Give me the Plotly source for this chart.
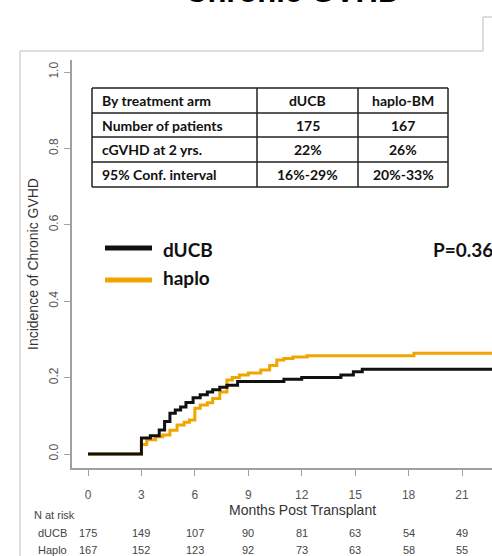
import plotly.graph_objects as go

# ---------------- data ----------------
ducb_t = [0, 3.0, 3.5, 4.0, 4.3, 4.6, 4.9, 5.2, 5.5, 5.9, 6.3, 6.7, 7.0, 7.4, 7.8, 8.4, 11.0, 12.0, 14.2, 14.9, 15.4, 22.7]
ducb_v = [0, 0.042, 0.048, 0.063, 0.085, 0.107, 0.115, 0.123, 0.135, 0.147, 0.155, 0.162, 0.168, 0.175, 0.18, 0.19, 0.196, 0.2, 0.207, 0.215, 0.222, 0.222]

haplo_t = [0, 3.0, 3.3, 3.8, 4.2, 4.6, 5.0, 5.4, 5.7, 6.0, 6.3, 6.7, 7.0, 7.4, 7.8, 8.1, 8.5, 9.0, 9.7, 10.2, 10.6, 11.0, 11.5, 12.3, 18.3, 22.7]
haplo_v = [0, 0.025, 0.037, 0.045, 0.05, 0.062, 0.076, 0.083, 0.089, 0.12, 0.128, 0.134, 0.145, 0.162, 0.194, 0.2, 0.207, 0.212, 0.22, 0.232, 0.246, 0.25, 0.254, 0.257, 0.264, 0.264]

x_ticks = [0, 3, 6, 9, 12, 15, 18, 21]
y_ticks = [0.0, 0.2, 0.4, 0.6, 0.8, 1.0]
risk_ducb = [175, 149, 107, 90, 81, 63, 54, 49]
risk_haplo = [167, 152, 123, 92, 73, 63, 58, 55]

table_rows = [
    ["By treatment arm", "dUCB", "haplo-BM"],
    ["Number of patients", "175", "167"],
    ["cGVHD at 2 yrs.", "22%", "26%"],
    ["95% Conf. interval", "16%-29%", "20%-33%"],
]

BLACK = "#111111"
GOLD = "#F0A500"

# ---------------- layout geometry (pixels) ----------------
FW, FH = 492, 556
L, R, T, B = 72, 492, 60, 468
PW, PH = R - L, B - T


def px(xp):
    return (xp - L) / PW


def py(yp):
    return (B - yp) / PH


fig = go.Figure()
fig.add_trace(go.Scatter(x=haplo_t, y=haplo_v, mode="lines", line=dict(color=GOLD, width=3, shape="hv"),
                         name="haplo", showlegend=False))
fig.add_trace(go.Scatter(x=ducb_t, y=ducb_v, mode="lines", line=dict(color=BLACK, width=3, shape="hv"),
                         name="dUCB", showlegend=False))

axis_font = dict(family="Liberation Sans, Arial", size=12, color="#555555")

fig.update_layout(
    width=FW, height=FH,
    margin=dict(l=L, r=FW - R, t=T, b=FH - B, pad=0),
    paper_bgcolor="white", plot_bgcolor="white",
    xaxis=dict(range=[(L - 88) / 17.81, (R - 88) / 17.81], tickvals=x_ticks, ticktext=[str(v) for v in x_ticks],
               showgrid=False, zeroline=False, showline=True, linecolor="#a0a0a0", linewidth=1.5,
               ticks="outside", ticklen=6, tickcolor="#a0a0a0", tickfont=axis_font, ticklabelstandoff=9),
    yaxis=dict(range=[(454 - B) / 382, (454 - T) / 382], tickvals=y_ticks, tickformat=".1f",
               showgrid=False, zeroline=False, showline=True, linecolor="#a0a0a0", linewidth=1.5,
               ticks="outside", ticklen=6, tickcolor="#a0a0a0", tickfont=axis_font, tickangle=-90,
               ticklabelstandoff=1),
    showlegend=False,
)

shapes = []
annotations = []

# slide frame
frame = dict(type="line", xref="paper", yref="paper", line=dict(color="#bdbdbd", width=1))
shapes.append(dict(frame, x0=px(20), x1=px(483), y0=py(51), y1=py(51)))
shapes.append(dict(frame, x0=px(483), x1=px(483), y0=py(51), y1=py(17)))
shapes.append(dict(frame, x0=px(483), x1=px(495), y0=py(17), y1=py(17)))
shapes.append(dict(frame, x0=px(20), x1=px(20), y0=py(51), y1=py(560)))

# title (mostly cut off, as in the reference)
annotations.append(dict(text="<b>Chronic GVHD</b>", xref="paper", yref="paper", x=px(292), y=py(11),
                        xanchor="center", yanchor="bottom", showarrow=False,
                        font=dict(family="Liberation Sans, Arial", size=31, color="black")))

# axis titles
annotations.append(dict(text="Incidence of Chronic GVHD", xref="paper", yref="paper", x=px(33), y=py(264),
                        xanchor="center", yanchor="middle", textangle=-90, showarrow=False,
                        font=dict(family="Liberation Sans, Arial", size=14, color="#333333")))
annotations.append(dict(text="Months Post Transplant", xref="paper", yref="paper", x=px(302), y=py(510),
                        xanchor="center", yanchor="middle", showarrow=False,
                        font=dict(family="Liberation Sans, Arial", size=14, color="#333333")))

# number at risk
risk_font = dict(family="Liberation Sans, Arial", size=11, color="#444444")
annotations.append(dict(text="N at risk", xref="paper", yref="paper", x=px(32), y=py(515), xanchor="left",
                        yanchor="middle", showarrow=False, font=risk_font))
for label, vals, yy in [("dUCB", risk_ducb, 533), ("Haplo", risk_haplo, 550)]:
    annotations.append(dict(text=label, xref="paper", yref="paper", x=px(69), y=py(yy), xanchor="right",
                            yanchor="middle", showarrow=False, font=risk_font))
    for t, v in zip(x_ticks, vals):
        annotations.append(dict(text=str(v), xref="x", yref="paper", x=t, y=py(yy), xanchor="center",
                                yanchor="middle", showarrow=False, font=risk_font))

# table
col_x = [92, 257, 358, 448]
row_y = [88, 113, 137, 162, 187]
tline = dict(color="#222222", width=1.5)
for cx in col_x:
    shapes.append(dict(type="line", xref="paper", yref="paper", x0=px(cx), x1=px(cx), y0=py(row_y[0]),
                       y1=py(row_y[-1]), line=tline))
for ry in row_y:
    shapes.append(dict(type="line", xref="paper", yref="paper", x0=px(col_x[0]), x1=px(col_x[-1]), y0=py(ry),
                       y1=py(ry), line=tline))
tfont = dict(family="Lato, Carlito, sans-serif", size=14, color="#111111")
for i, row in enumerate(table_rows):
    yc = (row_y[i] + row_y[i + 1]) / 2
    for j, cell in enumerate(row):
        if j == 0:
            annotations.append(dict(text="<b>%s</b>" % cell, xref="paper", yref="paper", x=px(col_x[0] + 8),
                                    y=py(yc), xanchor="left", yanchor="middle", showarrow=False, font=tfont))
        else:
            annotations.append(dict(text="<b>%s</b>" % cell, xref="paper", yref="paper",
                                    x=px((col_x[j] + col_x[j + 1]) / 2), y=py(yc), xanchor="center",
                                    yanchor="middle", showarrow=False, font=tfont))

# legend
lfont = dict(family="Lato, Carlito, sans-serif", size=19, color="#111111")
for name, color, yl, yt in [("dUCB", BLACK, 248, 249), ("haplo", GOLD, 280, 277)]:
    shapes.append(dict(type="line", xref="paper", yref="paper", x0=px(105), x1=px(152), y0=py(yl), y1=py(yl),
                       line=dict(color=color, width=5)))
    annotations.append(dict(text="<b>%s</b>" % name, xref="paper", yref="paper", x=px(161), y=py(yt),
                            xanchor="left", yanchor="middle", showarrow=False, font=lfont))

annotations.append(dict(text="<b>P=0.36</b>", xref="paper", yref="paper", x=px(431), y=py(249),
                        xanchor="left", yanchor="middle", showarrow=False, font=lfont))

fig.update_layout(shapes=shapes, annotations=annotations)
fig.write_html("out.html")
